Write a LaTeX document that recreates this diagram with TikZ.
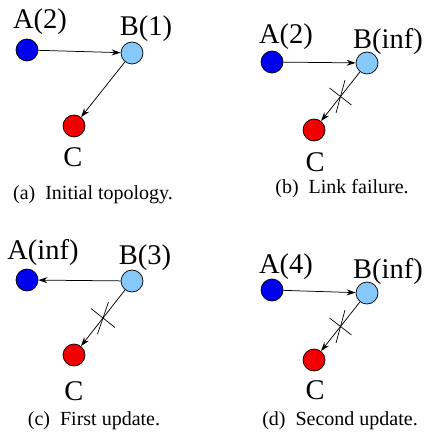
\documentclass[tikz,border=0pt]{standalone}
\usepackage{fontspec}
\setmainfont{Liberation Serif}
\usetikzlibrary{arrows.meta,positioning}
\definecolor{nodeblue}{RGB}{0,0,240}
\definecolor{nodesky}{RGB}{135,200,250}
\definecolor{nodered}{RGB}{240,0,0}

\begin{document}
\begin{tikzpicture}[x=1pt, y=-1pt, >={Stealth[length=9pt,width=6pt]},
  dot/.style={circle,draw,line width=0.7pt,minimum size=22pt,inner sep=0pt},
  lbl/.style={font=\fontsize{28.5}{32}\selectfont,inner sep=0pt},
  subcap/.style={font=\fontsize{20}{24}\selectfont,inner sep=0pt},
  link/.style={->,line width=0.75pt},
  cut/.style={line width=0.7pt}]
\useasboundingbox (0,0) rectangle (426,435);
% (a) initial topology
\node[dot, fill=nodeblue] (a1) at (27,50) {};
\node[dot, fill=nodesky] (b1) at (132,53) {};
\node[dot, fill=nodered] (c1) at (74,126) {};
\node[lbl] (la1) at (40,22) {A(2)};
\node[lbl] (lb1) at (146,29) {B(1)};
\node[lbl] (lc1) at (73,157) {C};
\node[subcap] (cap1) at (93,195) {(a)\ \ Initial topology.};
\draw[link] (a1) -- (b1);
\draw[link] (b1) -- (c1);
% (b) link failure
\node[dot, fill=nodeblue] (a2) at (272,62) {};
\node[dot, fill=nodesky] (b2) at (367,63) {};
\node[dot, fill=nodered] (c2) at (314,130) {};
\node[lbl] (la2) at (286,37) {A(2)};
\node[lbl] (lb2) at (388,42) {B(inf)};
\node[lbl] (lc2) at (315,162) {C};
\node[subcap] (cap2) at (342,189) {(b)\ \ Link failure.};
\draw[link] (a2) -- (b2);
\draw[link] (b2) -- coordinate[midway] (m2) (c2);
\draw[cut] (m2) ++(-11,-8.5) -- ++(22,17);
\draw[cut] (m2) ++(4.5,-16.5) -- ++(-9,33);
% (c) first update
\node[dot, fill=nodeblue] (a3) at (27,280) {};
\node[dot, fill=nodesky] (b3) at (132,281) {};
\node[dot, fill=nodered] (c3) at (74,355) {};
\node[lbl] (la3) at (43,252) {A(inf)};
\node[lbl] (lb3) at (145,258) {B(3)};
\node[lbl] (lc3) at (74,391) {C};
\node[subcap] (cap3) at (94,421) {(c)\ \ First update.};
\draw[link] (b3) -- (a3);
\draw[link] (b3) -- coordinate[midway] (m3) (c3);
\draw[cut] (m3) ++(-12,-9.5) -- ++(24,19);
\draw[cut] (m3) ++(5.5,-16) -- ++(-11,32);
% (d) second update
\node[dot, fill=nodeblue] (a4) at (272,290) {};
\node[dot, fill=nodesky] (b4) at (367,293) {};
\node[dot, fill=nodered] (c4) at (314,360) {};
\node[lbl] (la4) at (286,267) {A(4)};
\node[lbl] (lb4) at (388,271) {B(inf)};
\node[lbl] (lc4) at (315,390) {C};
\node[subcap] (cap4) at (340,421) {(d)\ \ Second update.};
\draw[link] (a4) -- (b4);
\draw[link] (b4) -- coordinate[midway] (m4) (c4);
\draw[cut] (m4) ++(-11,-8.5) -- ++(22,17);
\draw[cut] (m4) ++(4.5,-16.5) -- ++(-9,33);
\end{tikzpicture}
\end{document}
